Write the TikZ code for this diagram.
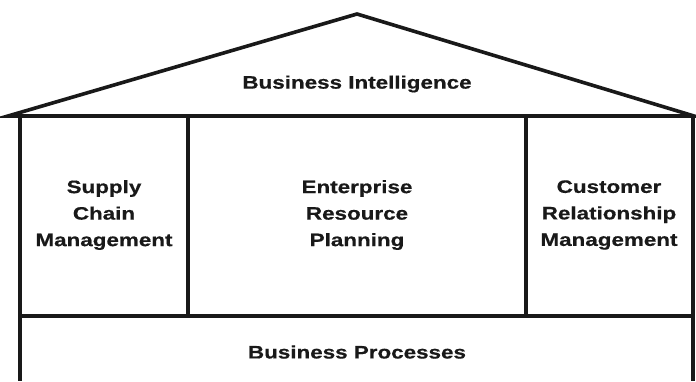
\documentclass[tikz,border=0pt]{standalone}
\usepackage{fontspec}
\setmainfont{Liberation Sans}
\newfontfamily\housefont[FakeStretch=1.245,FakeBold=0.6]{Liberation Sans Bold}
\begin{document}
\begin{tikzpicture}[x=1pt,y=-1pt,
  wall/.style={line width=3.6pt, draw=black!90},
  lbl/.style={font=\housefont\fontsize{18}{26.5}\selectfont, align=center, text=black!90, inner sep=0pt}]
\useasboundingbox (0,0) rectangle (696,381);
\coordinate (tl) at (8,116);
\coordinate (peak) at (357,14);
\coordinate (tr) at (694,116);
\coordinate (wl) at (20,116);
\coordinate (wlb) at (20,381);
\coordinate (wr) at (693,116);
\coordinate (wrb) at (693,381);
\coordinate (d1) at (188,116);
\coordinate (d1b) at (188,316);
\coordinate (d2) at (526,116);
\coordinate (d2b) at (526,316);
\coordinate (fl) at (20,316);
\coordinate (fr) at (693,316);
\draw[wall, line join=miter] (tl) -- (peak) -- (tr) -- cycle;
\draw[wall] (wl) -- (wlb);
\draw[wall] (wr) -- (wrb);
\draw[wall] (d1) -- (d1b);
\draw[wall] (d2) -- (d2b);
\draw[wall] (fl) -- (fr);
\node[lbl] (bi) at (357,84) {Business Intelligence};
\node[lbl] (scm) at (104,215) {Supply\\Chain\\Management};
\node[lbl] (erp) at (357,215) {Enterprise\\Resource\\Planning};
\node[lbl] (crm) at (609,215) {Customer\\Relationship\\Management};
\node[lbl] (bp) at (357,352) {Business Processes};
\end{tikzpicture}
\end{document}
